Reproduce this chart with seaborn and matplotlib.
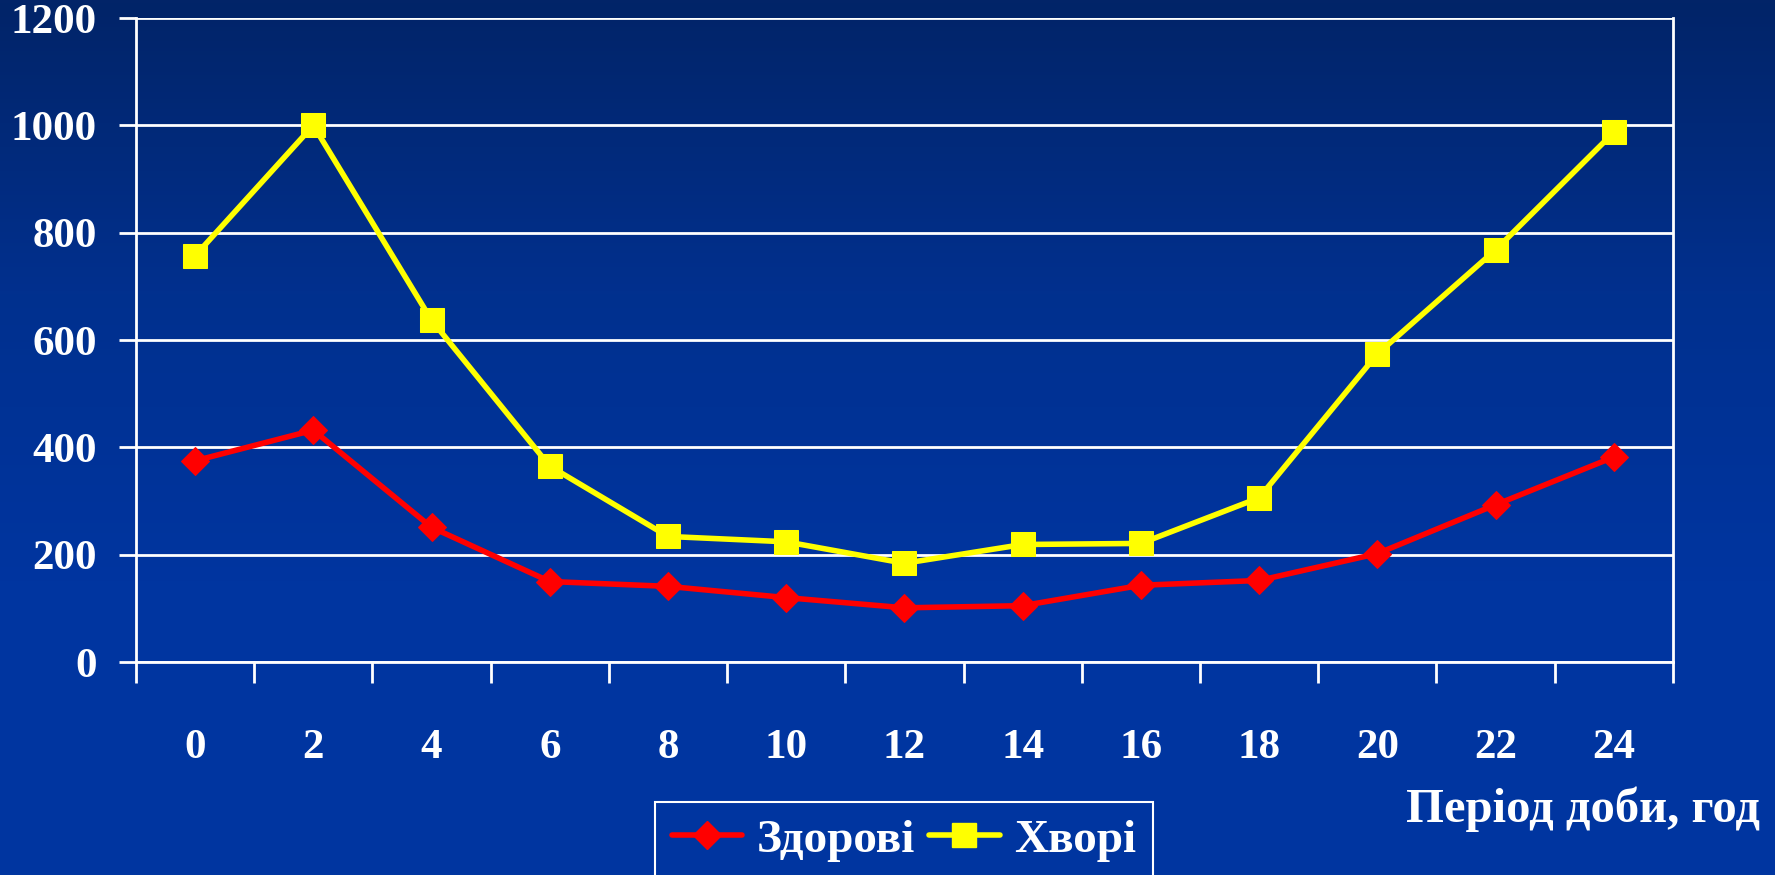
import numpy as np
import pandas as pd
import matplotlib
matplotlib.use("Agg")
import matplotlib.pyplot as plt
from matplotlib.colors import LinearSegmentedColormap
from matplotlib.lines import Line2D
import seaborn as sns

hours = ["0", "2", "4", "6", "8", "10", "12", "14", "16", "18", "20", "22", "24"]
healthy = [375, 432, 251, 150, 141, 120, 101, 105, 143, 152, 202, 293, 382]
sick = [757, 1000, 637, 365, 234, 224, 184, 219, 221, 306, 574, 768, 987]
series_names = ["Здорові", "Хворі"]
y_ticks = [0, 200, 400, 600, 800, 1000, 1200]
x_label = "Період доби, год"

sns.set_theme(style="white")
plt.rcParams['font.family'] = ['Liberation Serif', 'DejaVu Serif']

fig = plt.figure(figsize=(17.75, 8.75), dpi=100)

# background gradient
bg = fig.add_axes([0, 0, 1, 1], zorder=-10)
cmap = LinearSegmentedColormap.from_list("bg", ["#022468", "#01308e", "#0035a0", "#0036a0"])
grad = np.linspace(0, 1, 256).reshape(-1, 1)
bg.imshow(grad, aspect="auto", cmap=cmap, extent=[0, 1, 0, 1], origin="upper")
bg.axis("off")

ax = fig.add_axes([0.0766, 0.2434, 0.8659, 0.736])
ax.set_facecolor("none")

pos = np.arange(len(hours))
df_h = pd.DataFrame({"pos": pos, "value": healthy})
df_s = pd.DataFrame({"pos": pos, "value": sick})

sns.lineplot(data=df_s, x="pos", y="value", ax=ax, color="#ffff00", lw=4,
             marker="s", markersize=17, markeredgecolor="#ffff00",
             markerfacecolor="#ffff00", zorder=4)
sns.lineplot(data=df_h, x="pos", y="value", ax=ax, color="#ff0000", lw=4,
             marker="D", markersize=14, markeredgecolor="#ff0000",
             markerfacecolor="#ff0000", zorder=5)

ax.set_xlim(-0.5, len(hours) - 0.5)
ax.set_ylim(0, 1200)
ax.set_yticks(y_ticks)
ax.set_yticklabels([str(v) for v in y_ticks])
ax.set_xticks(pos)
ax.set_xticklabels(hours)
ax.set_xticks(np.arange(-0.5, len(hours)), minor=True)
ax.set_xlabel("")
ax.set_ylabel("")

ax.yaxis.grid(True, color="white", lw=2)
ax.xaxis.grid(False)
for s in ax.spines.values():
    s.set_color("white")
    s.set_linewidth(2)
ax.spines["top"].set_visible(False)

ax.tick_params(axis="y", length=12, width=2, color="white", pad=16,
               labelsize=31, labelcolor="white", left=True)
ax.tick_params(axis="x", which="major", length=0, pad=48,
               labelsize=31, labelcolor="white")
ax.tick_params(axis="x", which="minor", length=15, width=2, color="white",
               bottom=True)
for lab in ax.get_xticklabels() + ax.get_yticklabels():
    lab.set_fontweight("bold")

fig.text(0.9915, 0.075, x_label, ha="right", va="center", fontsize=35,
         fontweight="bold", color="white")

handles = [
    Line2D([], [], color="#ff0000", lw=4, marker="D", markersize=14),
    Line2D([], [], color="#ffff00", lw=4, marker="s", markersize=17),
]
leg = fig.legend(handles, series_names, loc="upper left",
                 bbox_to_anchor=(0.369, 0.083), ncol=2, frameon=True,
                 fancybox=False, framealpha=1, facecolor="none",
                 edgecolor="white", fontsize=34, handlelength=1.5,
                 handletextpad=0.3, columnspacing=0.3, borderpad=0.35,
                 borderaxespad=0)
leg.get_frame().set_linewidth(1.5)
for t in leg.get_texts():
    t.set_color("white")
    t.set_fontweight("bold")

fig.savefig("out.png", dpi=100)
